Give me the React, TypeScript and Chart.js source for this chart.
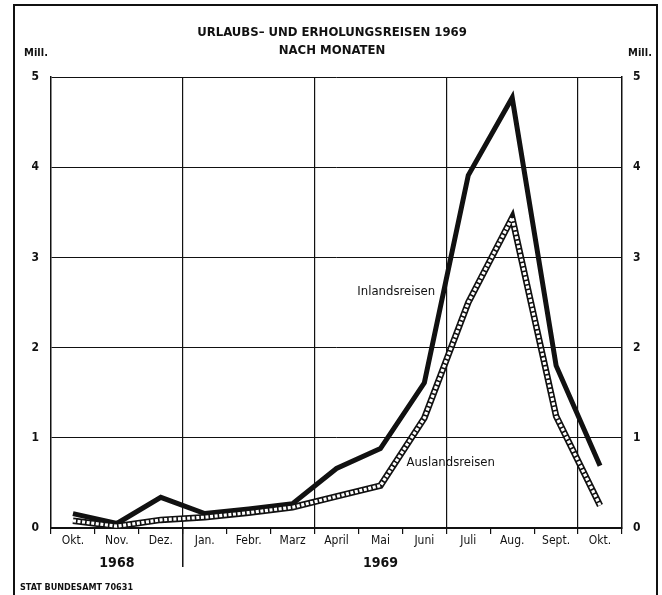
import React, { useEffect, useRef } from "react";
import { Chart, registerables } from "chart.js";

Chart.register(...registerables);

const MONTHS = ["Okt.", "Nov.", "Dez.", "Jan.", "Febr.", "Marz", "April", "Mai", "Juni", "Juli", "Aug.", "Sept.", "Okt."];
const INLAND = [0.16, 0.05, 0.34, 0.16, 0.21, 0.27, 0.66, 0.88, 1.61, 3.91, 4.77, 1.8, 0.69];
const AUSLAND = [0.08, 0.02, 0.09, 0.12, 0.17, 0.23, 0.35, 0.47, 1.22, 2.5, 3.44, 1.24, 0.25];
const Y_TICKS = [0, 1, 2, 3, 4, 5];
const TITLE_LINES = ["URLAUBS– UND ERHOLUNGSREISEN 1969", "NACH MONATEN"];
const UNIT = "Mill.";
const YEARS = [
  { index: 1, label: "1968" },
  { index: 7, label: "1969" },
];
const SERIES_LABELS = [
  { x: 7.36, y: 2.62, label: "Inlandsreisen" },
  { x: 8.6, y: 0.73, label: "Auslandsreisen" },
];
const SOURCE = "STAT BUNDESAMT 70631";
const BOUNDARIES = [3, 6, 9, 12];

const FONT = "'DejaVu Sans Condensed', 'Liberation Sans Narrow', 'Roboto', sans-serif";
const INK = "#111";

const decor = {
  id: "decor",
  afterDraw(chart: any) {
    const ctx = chart.ctx as CanvasRenderingContext2D;
    const xs = chart.scales.x;
    const ys = chart.scales.y;
    const area = chart.chartArea;
    ctx.save();
    ctx.strokeStyle = INK;
    ctx.fillStyle = INK;
    // outer frame
    ctx.lineWidth = 2;
    ctx.beginPath();
    ctx.moveTo(14, 595);
    ctx.lineTo(14, 5);
    ctx.lineTo(657, 5);
    ctx.lineTo(657, 595);
    ctx.stroke();
    // title
    ctx.textAlign = "center";
    ctx.textBaseline = "middle";
    ctx.font = `bold 13px ${FONT}`;
    ctx.fillText(TITLE_LINES[0], 332, 33);
    ctx.fillText(TITLE_LINES[1], 332, 51);
    ctx.font = `bold 11px ${FONT}`;
    ctx.fillText(UNIT, 36, 53);
    ctx.fillText(UNIT, 640, 53);
    // year separator
    ctx.lineWidth = 1.5;
    const sep = (xs.getPixelForValue(2) + xs.getPixelForValue(3)) / 2;
    ctx.beginPath();
    ctx.moveTo(sep, area.bottom);
    ctx.lineTo(sep, 567);
    ctx.stroke();
    // year labels
    ctx.font = `bold 14px ${FONT}`;
    YEARS.forEach((y) => ctx.fillText(y.label, xs.getPixelForValue(y.index), 563));
    // series labels
    ctx.font = `13px ${FONT}`;
    SERIES_LABELS.forEach((s) => ctx.fillText(s.label, xs.getPixelForValue(s.x), ys.getPixelForValue(s.y)));
    // source
    ctx.textAlign = "left";
    ctx.font = `bold 9px ${FONT}`;
    ctx.fillText(SOURCE, 20, 588);
    ctx.restore();
  },
};

export default function App() {
  const ref = useRef<HTMLCanvasElement>(null);
  useEffect(() => {
    if (!ref.current) return;
    const tickFont = { family: FONT, size: 12, weight: "bold" as const };
    const chart = new Chart(ref.current, {
      type: "line",
      data: {
        labels: MONTHS,
        datasets: [
          {
            data: AUSLAND,
            borderColor: "#fff",
            borderWidth: 3.2,
            borderDash: [3, 1.6],
            pointRadius: 0,
            tension: 0,
            order: 0,
          },
          {
            data: AUSLAND,
            borderColor: INK,
            borderWidth: 6.5,
            pointRadius: 0,
            tension: 0,
            order: 1,
          },
          {
            data: INLAND,
            borderColor: INK,
            borderWidth: 5,
            pointRadius: 0,
            tension: 0,
            borderJoinStyle: "miter",
            order: 2,
          },
        ],
      },
      options: {
        responsive: false,
        animation: false,
        events: [],
        layout: { padding: { top: 77, left: 0, right: 0, bottom: 0 } },
        plugins: { legend: { display: false }, tooltip: { enabled: false }, title: { display: false } },
        scales: {
          x: {
            type: "category",
            offset: true,
            grid: {
              offset: true,
              color: (c: any) => (BOUNDARIES.includes(c.index) ? INK : "transparent"),
              tickColor: INK,
              tickLength: 6,
              lineWidth: 1.2,
            },
            border: { color: INK, width: 2 },
            ticks: { font: { family: FONT, size: 12 }, color: INK, padding: 0, maxRotation: 0, autoSkip: false },
            afterFit: (s: any) => {
              s.height = 67;
            },
          },
          y: {
            position: "left",
            min: 0,
            max: 5,
            afterBuildTicks: (s: any) => {
              s.ticks = Y_TICKS.map((v) => ({ value: v }));
            },
            grid: { color: INK, lineWidth: 1, drawTicks: false },
            border: { color: INK, width: 1.5 },
            ticks: { font: tickFont, color: INK, padding: 12 },
            afterFit: (s: any) => {
              s.width = 51;
            },
          },
          y2: {
            position: "right",
            min: 0,
            max: 5,
            afterBuildTicks: (s: any) => {
              s.ticks = Y_TICKS.map((v) => ({ value: v }));
            },
            grid: { drawOnChartArea: false, drawTicks: false },
            border: { color: INK, width: 1.5 },
            ticks: { font: tickFont, color: INK, padding: 11 },
            afterFit: (s: any) => {
              s.width = 40;
            },
          },
        },
      },
      plugins: [decor],
    });
    return () => chart.destroy();
  }, []);
  return (
    <div style={{ position: "absolute", left: 0, top: 0, width: 662, height: 595, background: "#fff" }}>
      <canvas ref={ref} width={662} height={595} />
    </div>
  );
}
